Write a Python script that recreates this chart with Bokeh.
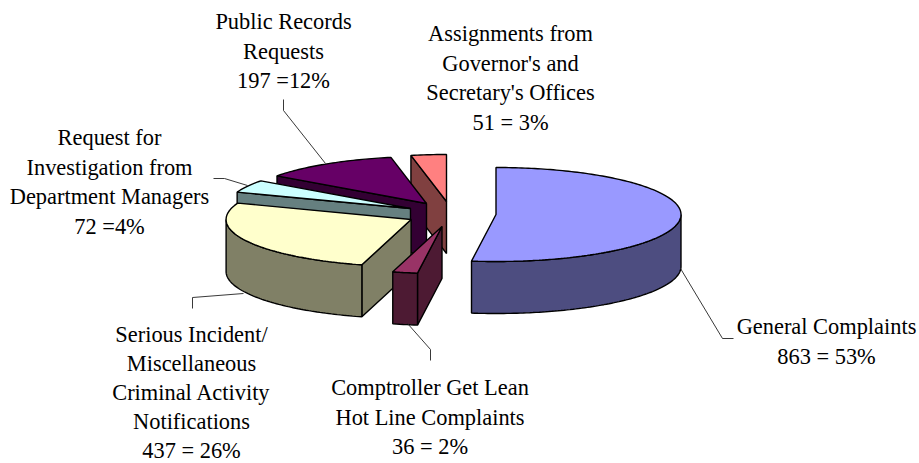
import numpy as np
from bokeh.plotting import figure
from bokeh.embed import file_html
from bokeh.resources import INLINE
from bokeh.core.properties import value

# data
names = ["General Complaints", "Comptroller Get Lean Hot Line Complaints",
         "Serious Incident/Miscellaneous Criminal Activity Notifications",
         "Request for Investigation from Department Managers",
         "Public Records Requests", "Assignments from Governor's and Secretary's Offices"]
counts = [863, 36, 437, 72, 197, 51]
top_colors = ["#9999FF", "#993366", "#FFFFCC", "#CCFFFF", "#660066", "#FF8080"]
side_colors = ["#4D4D80", "#4D1A33", "#808066", "#668080", "#330033", "#804040"]
# per-slice pie centre after explosion (pixels of the page)
centers = [(495.5, 214), (441.5, 226), (410.6, 219), (410, 208), (426, 203), (446, 201)]
RX, RY, DEPTH = 185, 47, 52

label_lines = [
    (283, ["Public Records", "Requests", "197 =12%"], 21, 29.6),
    (510, ["Assignments from", "Governor's and", "Secretary's Offices", "51 = 3%"], 33, 29.6),
    (109, ["Request for", "Investigation from", "Department Managers", "72 =4%"], 137, 29.6),
    (191, ["Serious Incident/", "Miscellaneous", "Criminal Activity", "Notifications", "437 = 26%"], 334, 29.0),
    (429.5, ["Comptroller Get Lean", "Hot Line Complaints", "36 = 2%"], 387, 29.6),
    (826, ["General Complaints", "863 = 53%"], 326, 29.6),
]
leaders = [
    ([283, 283, 325], [99, 110, 163]),
    ([213, 224, 247], [178, 178, 185]),
    ([192, 192, 243], [308, 297, 293]),
    ([407, 430, 430], [323, 349, 360]),
    ([680, 722, 733], [268, 338, 338]),
]

W, H = 919, 463
p = figure(width=W, height=H, x_range=(0, W), y_range=(H, 0), toolbar_location=None,
           output_backend="svg", min_border=0)
p.xaxis.visible = False
p.yaxis.visible = False
p.grid.visible = False
p.outline_line_color = None
p.background_fill_color = "white"


def pt(c, deg):
    t = np.radians(deg)
    return c[0] + RX * np.sin(t), c[1] - RY * np.cos(t)


def arc(c, a, b):
    n = max(int(abs(b - a)), 2) + 1
    ds = np.linspace(a, b, n)
    xy = [pt(c, d) for d in ds]
    return [q[0] for q in xy], [q[1] for q in xy]


total = sum(counts)
edges = np.concatenate([[0], np.cumsum(counts) / total * 360])
LW = 1.4

# paint back to front: last slice first, General last
order = [5, 4, 3, 2, 1, 0]
for i in order:
    a, b = edges[i], edges[i + 1]
    c = centers[i]
    # start wall
    if np.sin(np.radians(a)) < -1e-6:
        ex, ey = pt(c, a)
        p.patch([c[0], ex, ex, c[0]], [c[1], ey, ey + DEPTH, c[1] + DEPTH],
                fill_color=side_colors[i], line_color="black", line_width=LW)
    # outer wall (front half of the rim)
    wa, wb = max(a, 90), min(b, 270)
    if wb > wa:
        ax, ay = arc(c, wa, wb)
        xs = ax + ax[::-1]
        ys = ay + [y + DEPTH for y in ay[::-1]]
        p.patch(xs, ys, fill_color=side_colors[i], line_color="black", line_width=LW)
    # top face
    ax, ay = arc(c, a, b)
    p.patch([c[0]] + ax, [c[1]] + ay, fill_color=top_colors[i], line_color="black", line_width=LW)

for xs, ys in leaders:
    p.line(xs, ys, line_color="#222222", line_width=0.9)

tx, ty, tt = [], [], []
for x, lines, y0, dy in label_lines:
    for k, s in enumerate(lines):
        tx.append(x)
        ty.append(y0 + k * dy)
        tt.append(s)
p.text(tx, ty, text=tt, text_font=value("Liberation Serif"), text_font_size="22.4px",
       text_align="center", text_baseline="middle", text_color="black")

open("out.html", "w").write(file_html(p, INLINE))
